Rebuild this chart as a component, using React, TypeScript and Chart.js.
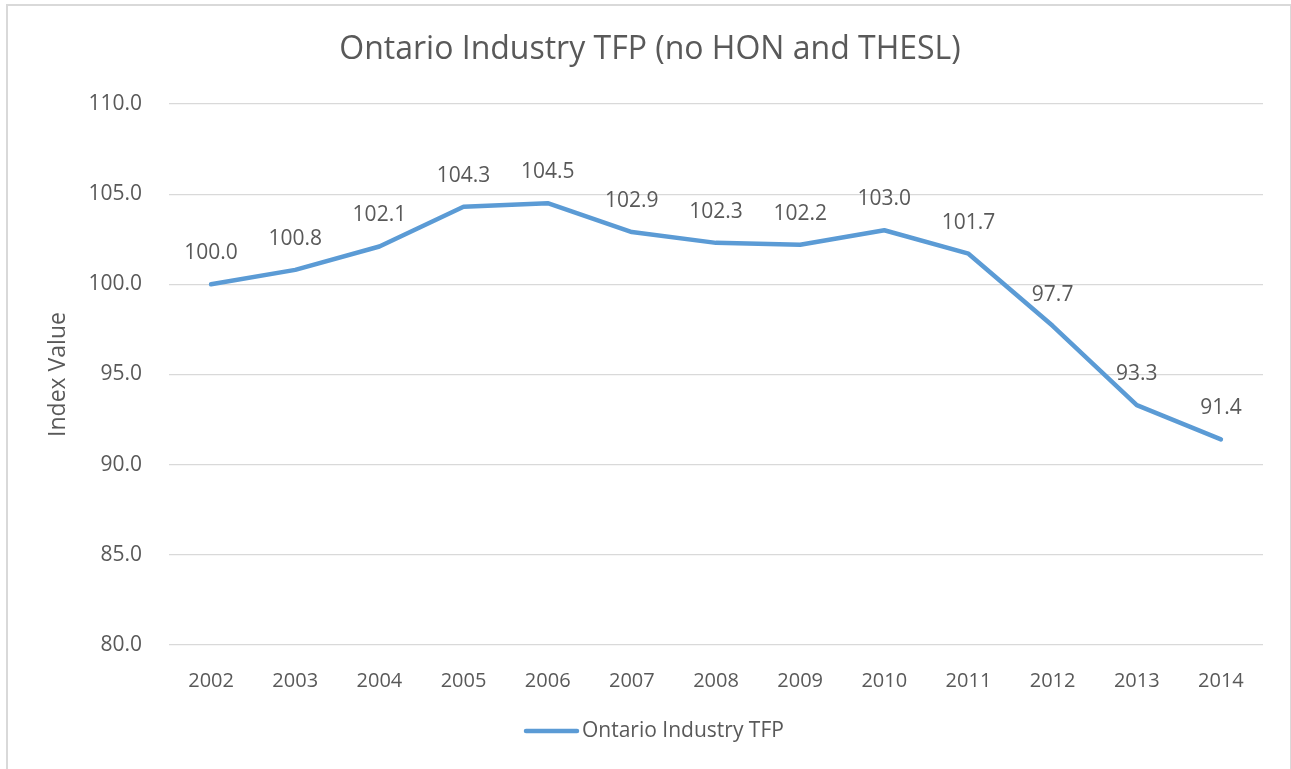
import React, { useEffect, useRef } from "react";
import { Chart, registerables } from "chart.js";

Chart.register(...registerables);

const years: string[] = ["2002", "2003", "2004", "2005", "2006", "2007", "2008", "2009", "2010", "2011", "2012", "2013", "2014"];
const tfpValues: number[] = [100.0, 100.8, 102.1, 104.3, 104.5, 102.9, 102.3, 102.2, 103.0, 101.7, 97.7, 93.3, 91.4];
const seriesName = "Ontario Industry TFP";
const chartTitle = "Ontario Industry TFP (no HON and THESL)";
const yAxisTitle = "Index Value";

const TEXT = "#595959";
const LINE = "#5B9BD5";
const FONT = "'Open Sans', sans-serif";

const decorPlugin = {
  id: "decor",
  afterDatasetsDraw(chart: any) {
    const ctx = chart.ctx;
    const meta = chart.getDatasetMeta(0);
    ctx.save();
    ctx.fillStyle = TEXT;
    ctx.font = `21px ${FONT}`;
    ctx.textAlign = "center";
    ctx.textBaseline = "middle";
    meta.data.forEach((pt: any, i: number) => {
      ctx.fillText(tfpValues[i].toFixed(1), pt.x, pt.y - 31);
    });
    // title
    ctx.font = `32px ${FONT}`;
    ctx.fillText(chartTitle, 650, 50);
    // legend
    ctx.strokeStyle = LINE;
    ctx.lineWidth = 4.5;
    ctx.lineCap = "round";
    ctx.beginPath();
    ctx.moveTo(526, 731);
    ctx.lineTo(577, 731);
    ctx.stroke();
    ctx.font = `21px ${FONT}`;
    ctx.textAlign = "left";
    ctx.fillText(seriesName, 582, 731);
    ctx.restore();
  },
};

export default function App() {
  const ref = useRef<HTMLCanvasElement | null>(null);
  useEffect(() => {
    if (!ref.current) return;
    const chart = new Chart(ref.current, {
      type: "line",
      data: {
        labels: years,
        datasets: [
          {
            label: seriesName,
            data: tfpValues,
            borderColor: LINE,
            backgroundColor: LINE,
            borderWidth: 4.5,
            borderCapStyle: "round",
            borderJoinStyle: "round",
            pointRadius: 0,
            tension: 0,
          },
        ],
      },
      options: {
        animation: false,
        responsive: false,
        maintainAspectRatio: false,
        layout: { padding: { top: 104, right: 28, bottom: 64, left: 0 } },
        plugins: {
          legend: { display: false },
          title: { display: false },
          tooltip: { enabled: false },
        },
        scales: {
          x: {
            offset: true,
            grid: { display: false, drawTicks: false },
            border: { display: false },
            ticks: { color: TEXT, font: { family: FONT, size: 20 }, padding: 24, maxRotation: 0 },
            afterFit: (s: any) => {
              s.height = 60;
            },
          },
          y: {
            min: 80,
            max: 110,
            grid: { color: "#D9D9D9", lineWidth: 1.2, drawTicks: false },
            border: { display: false },
            ticks: {
              stepSize: 5,
              color: TEXT,
              font: { family: FONT, size: 21 },
              padding: 27,
              callback: (v: any) => Number(v).toFixed(1),
            },
            title: {
              display: true,
              text: yAxisTitle,
              color: TEXT,
              font: { family: FONT, size: 23 },
              padding: { top: 45, bottom: 0 },
            },
            afterFit: (s: any) => {
              s.width = 169;
            },
          },
        },
      },
      plugins: [decorPlugin],
    });
    return () => chart.destroy();
  }, []);

  return (
    <div style={{ position: "fixed", left: 0, top: 0, width: 1291, height: 769, overflow: "hidden", background: "#fff" }}>
      <div
        style={{
          position: "absolute",
          left: 6,
          top: 4,
          width: 1282,
          height: 800,
          border: "2px solid #D9D9D9",
        }}
      />
      <canvas ref={ref} width={1291} height={769} style={{ position: "absolute", left: 0, top: 0, width: 1291, height: 769 }} />
    </div>
  );
}
